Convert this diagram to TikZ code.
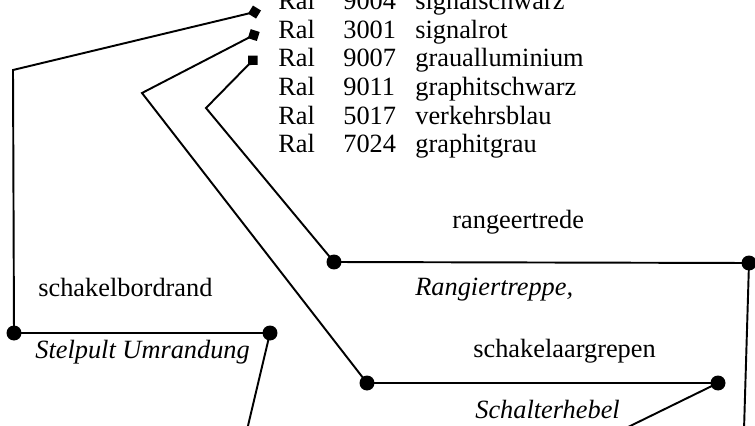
\documentclass[tikz,border=0pt]{standalone}
\usepackage{fontspec}
\setmainfont{Liberation Serif}
\usetikzlibrary{arrows.meta}
\tikzset{
  lead/.style={line width=1.1pt},
  leadtip/.style={lead, -{Diamond[length=7.6pt, width=7.6pt]}},
  dot/.style={circle, fill, inner sep=0pt, minimum size=0.3cm},
  tag/.style={anchor=base west, inner sep=0pt},
}

\begin{document}
\begin{tikzpicture}[x=0.02cm, y=-0.02cm, font=\fontsize{15}{18}\selectfont]
  \useasboundingbox (0,0) rectangle (755,426);
  \clip (0,0) rectangle (755,426);
  % ================= colour table =================
  \foreach \num/\name [count=\i] in {9004/signalschwarz, 3001/signalrot,
      9007/graualluminium, 9011/graphitschwarz, 5017/verkehrsblau,
      7024/graphitgrau}{
    \node[tag] (ral\i)  at (278, {10+28.5*(\i-1)}) {Ral};
    \node[tag] (num\i)  at (343, {10+28.5*(\i-1)}) {\num};
    \node[tag] (name\i) at (415, {10+28.5*(\i-1)}) {\name};
  }
  % ================= labels =================
  \node[tag] (trapNL) at (452,228) {rangeertrede};
  \node[tag, font=\fontsize{15}{18}\itshape] (trapDE) at (415,295) {Rangiertreppe,};
  \node[tag] (bordNL) at (38,296) {schakelbordrand};
  \node[tag, font=\fontsize{15}{18}\itshape] (bordDE) at (35,358) {Stelpult Umrandung};
  \node[tag] (hebNL) at (473,357) {schakelaargrepen};
  \node[tag, font=\fontsize{15}{18}\itshape] (hebDE) at (475,418) {Schalterhebel};
  % ================= junction dots =================
  \node[dot] (bordL) at (14,333) {};
  \node[dot] (bordR) at (270,333) {};
  \node[dot] (trapL) at (334,262) {};
  \node[dot] (trapR) at (749,263) {};
  \node[dot] (hebL)  at (367,383) {};
  \node[dot] (hebR)  at (718,383) {};
  % bends, loose ends and tips
  \coordinate (bend1) at (13,70);
  \coordinate (bend2) at (142,93);
  \coordinate (bend3) at (206,108);
  \coordinate (tip1) at (261,10.5);
  \coordinate (tip2) at (259.7,32);
  \coordinate (tip3) at (257.5,55.5);
  \coordinate (bordEnd) at (247,430);
  \coordinate (trapEnd) at (744,430);
  \coordinate (hebEnd)  at (622,430);
  % ================= leads =================
  \draw[leadtip] (bordEnd) -- (bordR.center) -- (bordL.center) -- (bend1) -- (tip1);
  \draw[leadtip] (hebEnd) -- (hebR.center) -- (hebL.center) -- (bend2) -- (tip2);
  \draw[leadtip] (trapEnd) -- (trapR.center) -- (trapL.center) -- (bend3) -- (tip3);
\end{tikzpicture}
\end{document}
